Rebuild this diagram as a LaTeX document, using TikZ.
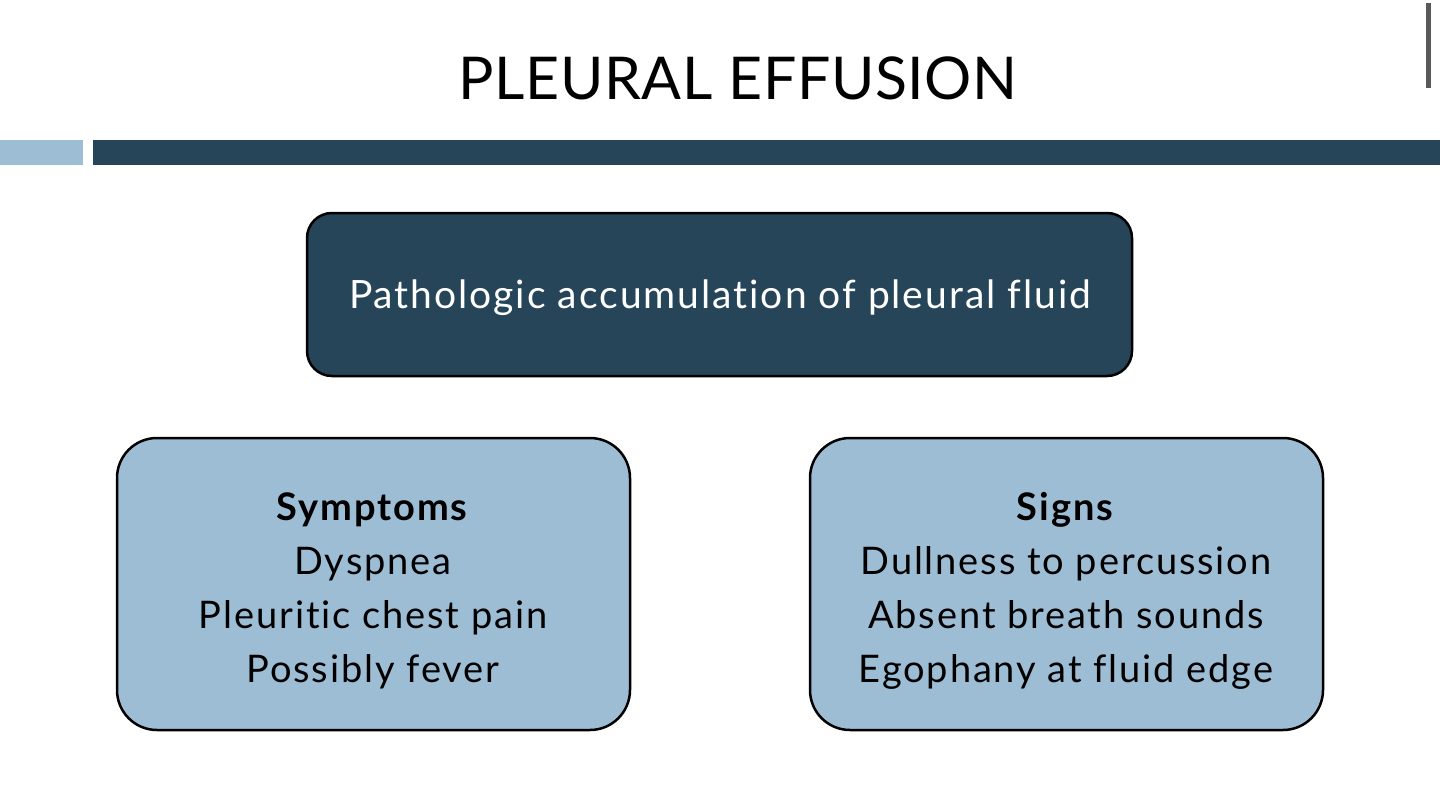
\documentclass[tikz,border=0pt]{standalone}
\usepackage{fontspec}
\setmainfont{Lato}[LetterSpace=5,RawFeature={-liga;-dlig;-clig}]
\newfontfamily\titlefont{Lato}[LetterSpace=1]
\definecolor{darkblue}{HTML}{264559}
\definecolor{lightblue}{HTML}{9DBDD5}
\definecolor{barlight}{HTML}{9DBDD5}
\begin{document}
\begin{tikzpicture}[x=1pt,y=-1pt,
  boxtxt/.style={font=\fontsize{38}{54}\selectfont, align=center, inner sep=0pt},
]
\useasboundingbox (0,0) rectangle (1440,789);
\fill[white] (0,0) rectangle (1440,789);
% title
\node[font=\titlefont\fontsize{59}{70}\selectfont, inner sep=0pt] (title) at (738,78) {PLEURAL EFFUSION};
% top-right mark
\fill[gray!70!black] (1426,3) rectangle (1431,88);
% bars
\fill[barlight] (0,140) rectangle (83,165);
\fill[darkblue] (93,140) rectangle (1440,165);
% top box
\draw[line width=2.5pt, fill=darkblue, rounded corners=25pt] (307,213) rectangle (1132,376);
\node[boxtxt, font=\fontsize{39}{54}\selectfont, text=white] (def) at (720,298) {Pathologic accumulation of pleural fluid};
% left box
\draw[line width=2.5pt, fill=lightblue, rounded corners=40pt] (117,438) rectangle (630,730);
\node[boxtxt, text=black] (sym) at (373,591) {\textbf{Symptoms}\\Dyspnea\\Pleuritic chest pain\\Possibly fever};
% right box
\draw[line width=2.5pt, fill=lightblue, rounded corners=40pt] (810,438) rectangle (1323,730);
\node[boxtxt, text=black] (sig) at (1066,591) {\textbf{Signs}\\Dullness to percussion\\Absent breath sounds\\Egophany at fluid edge};
\end{tikzpicture}
\end{document}
